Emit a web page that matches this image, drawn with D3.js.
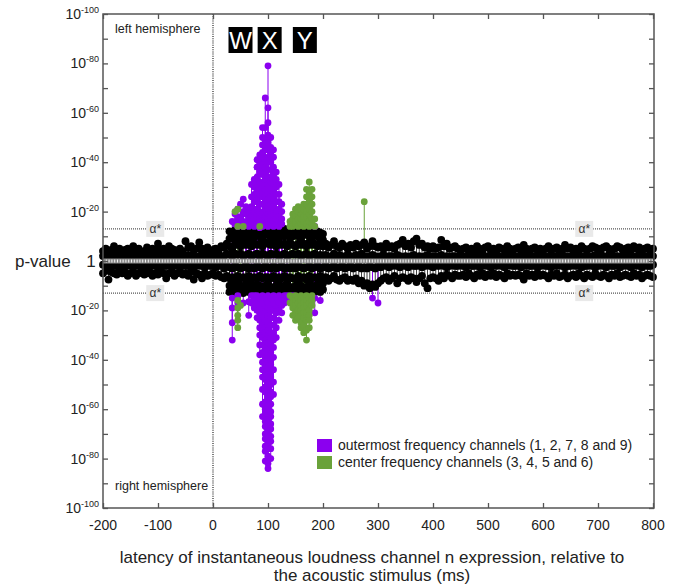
<!DOCTYPE html>
<html>
<head>
<meta charset="utf-8">
<script src="https://cdn.jsdelivr.net/npm/d3@7"></script>
<style>
  body { margin: 0; background: #fff; }
  text { font-family: "Liberation Sans", Arial, Helvetica, sans-serif; }
</style>
</head>
<body>
<svg id="chart" width="678" height="585"></svg>
<script>
// sampling grid of the black (non significant) points, in ms
const latencies = d3.range(-200, 801, 5);
const earlyLatencies = d3.range(30, 201, 5);

// -log10(p) of black points, left hemisphere (drawn upward)
const leftInner = [
  2,1.5,2,2.5,1,2,1.5,2,3,1.5, 2,1,2.5,2,1.5,2,2,1,2.5,2,
  1.5,2,3,2,1.5,2.5,1,2,2,1.5, 2,2.5,1.5,2,1,2,3,2,1.5,2,
  2.5,2,1.5,2,2,3,2.5,2,3,2.5, 3,2,2.5,3,2,2.5,3,2,3,2.5,
  2,3,2.5,3,2,2.5,3,2,2.5,3, 2.5,3,2,2.5,3,2,2.5,3,2,2.5,
  2,2.5,1.5,2,3,2,2.5,1.5,2,2.5, 2,1.5,2.5,2,3,2,1.5,2,2.5,2,
  1.5,2,2.5,1,2,2,1.5,2.5,2,1, 2,1.5,2,2.5,1.5,2,1,2,2.5,1.5,
  2,2,1.5,2.5,1,2,1.5,2,2,1.5, 2.5,2,1,2,1.5,2,2.5,1.5,2,1,
  2,1.5,2,2.5,2,1,2,1.5,2.5,2, 1.5,2,1,2,2.5,1.5,2,2,1,2,
  2.5,1.5,2,1,2,2,1.5,2.5,2,1.5, 2,1,2,2.5,1.5,2,2,1,2,2.5,
  1.5,2,2,1.5,2.5,1,2,2,1.5,2, 2.5,1.5,2,1,2,2.5,1.5,2,2,1.5,2
];
const leftOuter = [
  4,5,3.5,4.5,6,4,5,3.5,4.5,5, 4,6,4.5,5,3.5,4,5.5,4,5,4.5,
  7,4.5,5,4,6,5,4.5,3.5,5,4, 8,5.5,6,4.5,5,7.5,5,4.5,5.5,4,
  4.5,5,4,6,5.5,7,6,5,6.5,7, 6,7,6.5,7.5,6,7,6.5,7,6,7.5,
  7,6.5,7.5,6,7,6.5,7,6,7.5,6.5, 6,7,6.5,7,6,7.5,6.5,7,6,6.5,
  6,7,5.5,6.5,8,6,5.5,7,6,5, 6.5,5.5,7,6,6.5,7.5,5,6,8,6,
  5.5,6,5,7,5.5,6,5,6.5,7,8.5, 6,7,5.5,8,9,6.5,7,5.5,6,5,
  6,5,5.5,8.5,6,7,5,5.5,6,5, 4.5,5,5.5,4,5,4.5,6,5,4,5.5,
  6,4.5,5,4,5.5,5,4.5,6,5,4, 5,5.5,4.5,6.5,5,4,5,5.5,4.5,5,
  4,5,6,4.5,5,5.5,4,5,6.5,5, 5.5,4.5,5,4,6,5,4.5,5,6,5.5,
  5,4,5.5,6,5,4.5,5,6,5.5,4.5, 5,5.5,4.5,6,5,5.5,4,5,5.5,4.5,5
];
const leftEarlyMid = [9,10,8.5,11,9.5,10,9,11,10,9.5,11,10,9,10.5,11,9.5,10,11,9,10.5,10,11,9.5,10,11,10,9,10.5,11,10,9.5,11,10,9,8.5];
const leftEarlyTop = [12,11.5,12.5,12,13,12,12.5,11.5,12,13,12.5,12,12.5,13,12,12.5,12,13,12.5,12,13,12,12.5,13,12,12.5,13,12,12.5,12,13,12.5,12,11.5,11];

// -log10(p) of black points, right hemisphere (drawn downward)
const rightInner = [
  1.5,2,2.5,1,2,2,1.5,2.5,2,1, 2,2.5,1.5,2,1,2,2.5,2,1.5,2,
  2.5,1,2,2,1.5,2.5,2,1.5,2,1, 2,2,1.5,2.5,2,1,2,2.5,1.5,2,
  2,2.5,2,1.5,3,2,2.5,3,2,2.5, 3,2.5,2,3,2.5,3,2,2.5,3,2,
  2.5,3,2,3,2.5,2,3,2.5,3,2, 3,2,2.5,3,2.5,2,3,2.5,2,3,
  2.5,2,3,2.5,2,3,2.5,2,3,2.5, 2,3,2.5,2,3,2.5,3,2,2.5,3,
  2,2.5,1.5,2,2.5,2,1.5,2,2.5,1, 2,2.5,1.5,2,2,1,2.5,2,1.5,2,
  2.5,1.5,2,1,2,2.5,2,1.5,2,2, 1,2,2.5,1.5,2,2,1.5,2.5,2,1,
  2,2.5,1.5,2,1,2,2.5,2,1.5,2, 2,1.5,2.5,2,1,2,2,1.5,2.5,2,
  1.5,2,2,2.5,1,2,1.5,2,2.5,2, 2,1.5,2,1,2.5,2,2,1.5,2,2.5,
  2,1,2,2.5,1.5,2,2,1.5,2.5,2, 1.5,2,2.5,2,1,2,2.5,1.5,2,2,1.5
];
const rightOuter = [
  5,4,7.5,4.5,5,5.5,4,5,4.5,6, 5,4.5,6,5,4,5.5,5,4.5,6,5,
  5.5,4,5,7,5,4.5,6,5,4,5.5, 5,6,4.5,7.5,5,5.5,7,5,6,5.5,
  5,6,5.5,6.5,7,6,7,6.5,7,6, 7,6.5,7,6,7.5,6.5,7,6,7,6.5,
  6.5,7,6,7.5,6.5,7,6,7,6.5,7, 7,6,7,6.5,7.5,6,7,6.5,7,6,
  7,6.5,8,7,6,7.5,8,7,6.5,8, 7.5,8,7,9,8,10,9,11,9.5,10.5,
  9,8,7,6.5,8,7,6,9,7,6.5, 7,8,6.5,7,8.5,7,6,9,11,7,
  6.5,7,8,6,7,5.5,6,7,5.5,6, 6,5.5,6.5,5,6,7,5.5,6,5,6.5,
  5.5,6,5,6.5,5.5,6,7,5,6,5.5, 6,5.5,6,7.5,5,6,5.5,6.5,5,6,
  5.5,6,7,5.5,6,5,6.5,6,5.5,7, 6,5.5,6.5,5,6,7,5.5,6,6.5,5,
  6,6.5,5.5,6,7,5.5,6,5,6.5,6, 5.5,6,6.5,5,6,5.5,7,6,5.5,6,6.5
];
const rightEarlyMid = [10,9,11,9.5,10,11,9,10.5,10,11,9.5,10,11,10,9,10.5,11,10,9.5,11,10,9,10.5,11,10,9.5,10,11,10.5,9,10,11,9.5,10,9];
const rightEarlyTop = [12.5,12,13,12,12.5,13,12,12.5,13,12,12.5,13,12.5,12,13,12.5,12,13,12,12.5,13,12.5,12,13,12,12.5,13,12,12.5,13,12,12.5,12,12.5,11.5];

// significant points: [latency, list of -log10(p)]
const outermostLeft = [
  [35,[16]], [40,[19,15]], [45,[17,21,14]], [50,[23,18,15]], [55,[25,20,16,14]],
  [60,[19,15,22]], [65,[17,14,20]], [70,[31,22,18,15,26]],
  [75,[14,17,20,24,27,30,33]],
  [80,[15,18,21,25,28,31,34,38,41]],
  [85,[13.5,17,20,23,27,29,32,36,38,40,43]],
  [90,[14,16,19,23,26,28,31,35,37,39,42,44,47,50,54]],
  [95,[15,18,21,24,26,29,33,36,38,41,45,47,49,54,66]],
  [100,[14,17,19,22,25,28,31,34,37,40,42,45,48,51,56,62,79]],
  [105,[15,18,20,23,26,29,32,34,37,40,43,46,50]],
  [110,[14,16,19,22,25,28,31,35,38,42,45]],
  [115,[15,17,20,24,27,30,33,36]],
  [120,[14,18,21,24,27,31]],
  [125,[15,17,20,23]],
  [185,[14]]
];
const outermostRight = [
  [35,[15,19,25,32]], [45,[14,17]], [55,[17]], [65,[16.5,22]], [70,[14,17]],
  [75,[14,16,19]], [80,[14,17,20,23]],
  [85,[15,18,21,24,27,30,34,38]],
  [90,[14,16,19,22,25,28,31,34,37,41,44,47,52,58,63]],
  [95,[15,18,21,24,27,29,32,35,39,42,45,48,51,53,57,60,62,65,67,70,72,75,77,81]],
  [100,[14,17,19,22,25,28,30,33,36,38,40,43,46,49,51,54,56,59,61,64,67,69,71,74,76,79,82,84]],
  [105,[15,18,20,23,26,29,31,34,37,40,42,45,47,50,53,55,58,61,63,66,68,71,73,76,80]],
  [110,[14,17,20,23,26,29,32,35,39,44,49,54]],
  [115,[15,18,21,24,27,31]],
  [120,[14,17,20,24]], [125,[15,18,21]], [130,[14,17]], [135,[14,16]],
  [140,[15]], [145,[14]], [165,[24,19]], [185,[21,15]], [195,[16]],
  [290,[15]], [300,[17]]
];
const centerLeft = [
  [40,[20]], [45,[14,21]], [55,[14]], [85,[14]],
  [140,[14,16]], [145,[14,17,19]], [150,[15,18,21,16]], [155,[14,17,20,22]],
  [160,[15,17,19,21]], [165,[14,16,18,21,23]], [170,[15,18,20,23,26,29]],
  [175,[14,16,19,21,24,27,32]], [180,[15,17,20,23,26,29]], [185,[14,17]],
  [275,[24]]
];
const centerRight = [
  [45,[16,19,22,24,27]], [50,[18]],
  [140,[14,17]], [145,[15,17,19,22]], [150,[14,16,18,21,24]], [155,[15,17,20,23]],
  [160,[14,16,18,20,22,25,27]], [165,[15,17,19,21,23,26,29]],
  [170,[14,16,18,21,24,28,32]], [175,[15,17,20,22,24,27]], [180,[14,16,18]]
];

const alphaStar = 13;
const alphaLabelAt = [-105, 675];
const xTicks = [-200, -100, 0, 100, 200, 300, 400, 500, 600, 700, 800];
const yMinorTicks = d3.range(-100, 101, 10);
const yLabels = [-100, -80, -60, -40, -20, 20, 40, 60, 80, 100];
const peakNames = ["W", "X", "Y"];
const peakAt = [50, 103, 167];
const legendNames = ["outermost frequency channels (1, 2, 7, 8 and 9)", "center frequency channels (3, 4, 5 and 6)"];
const purple = "#8b00ef";
const green = "#6aa23a";
const legendColors = [purple, green];

const svg = d3.select("#chart");
const x = d3.scaleLinear().domain([-200, 800]).range([103, 653]);
const y = d3.scaleLinear().domain([-100, 100]).range([508, 14]);

// flatten the data (left hemisphere up, right hemisphere down)
const black = [];
latencies.forEach((t, i) => {
  black.push({ t: t, v: leftInner[i] }, { t: t, v: leftOuter[i] });
  black.push({ t: t, v: -rightInner[i] }, { t: t, v: -rightOuter[i] });
});
earlyLatencies.forEach((t, i) => {
  black.push({ t: t, v: leftEarlyMid[i] }, { t: t, v: leftEarlyTop[i] });
  black.push({ t: t, v: -rightEarlyMid[i] }, { t: t, v: -rightEarlyTop[i] });
});

function expand(list, sign, color) {
  const out = [];
  list.forEach(([t, vals]) => vals.forEach(v => out.push({ t: t, v: sign * v, color: color })));
  return out;
}
const colored = [].concat(
  expand(outermostLeft, 1, purple), expand(outermostRight, -1, purple),
  expand(centerLeft, 1, green), expand(centerRight, -1, green)
);

// reference lines
svg.append("line")
  .attr("x1", x(0)).attr("x2", x(0)).attr("y1", y(100)).attr("y2", y(-100))
  .attr("stroke", "#222").attr("stroke-width", 1.2).attr("stroke-dasharray", "1,1.2");
[alphaStar, -alphaStar].forEach(a => {
  svg.append("line")
    .attr("x1", x(-200)).attr("x2", x(800)).attr("y1", y(a)).attr("y2", y(a))
    .attr("stroke", "#555").attr("stroke-width", 1.3).attr("stroke-dasharray", "1,1");
  alphaLabelAt.forEach(t => {
    svg.append("rect")
      .attr("x", x(t) - 9).attr("y", y(a) - 8).attr("width", 18).attr("height", 16)
      .attr("fill", "#e9e9e9");
    svg.append("text")
      .attr("x", x(t)).attr("y", y(a) + 4).attr("text-anchor", "middle")
      .attr("font-size", 12).attr("fill", "#333").text("α*");
  });
});

// stems
svg.append("g").selectAll("line").data(black).join("line")
  .attr("x1", d => x(d.t)).attr("x2", d => x(d.t))
  .attr("y1", y(0)).attr("y2", d => y(d.v))
  .attr("stroke", "#111").attr("stroke-width", 0.8);
svg.append("g").selectAll("line").data(colored).join("line")
  .attr("x1", d => x(d.t)).attr("x2", d => x(d.t))
  .attr("y1", y(0)).attr("y2", d => y(d.v))
  .attr("stroke", d => d.color).attr("stroke-width", 1);

// black points
svg.append("g").selectAll("circle").data(black).join("circle")
  .attr("cx", d => x(d.t)).attr("cy", d => y(d.v)).attr("r", 3.9)
  .attr("fill", "#000");

// baseline band
svg.append("line")
  .attr("x1", x(-200)).attr("x2", x(800)).attr("y1", y(0)).attr("y2", y(0))
  .attr("stroke", "#8c8c8c").attr("stroke-width", 5);
svg.append("line")
  .attr("x1", x(-200)).attr("x2", x(800)).attr("y1", y(0)).attr("y2", y(0))
  .attr("stroke", "#f4f4f4").attr("stroke-width", 3).attr("stroke-dasharray", "1,1.8");

// colored points
svg.append("g").selectAll("circle").data(colored).join("circle")
  .attr("cx", d => x(d.t)).attr("cy", d => y(d.v)).attr("r", 3.4)
  .attr("fill", d => d.color);

// frame and ticks
svg.append("rect")
  .attr("x", x(-200)).attr("y", y(100)).attr("width", x(800) - x(-200) + 1).attr("height", y(-100) - y(100))
  .attr("fill", "none").attr("stroke", "#555").attr("stroke-width", 1.5);
const tickColor = "#555";
function inwardTicks(g) {
  g.select(".domain").remove();
  g.selectAll(".tick line").attr("stroke", tickColor).attr("stroke-width", 1.3);
}
svg.append("g").attr("transform", `translate(0,${y(-100)})`)
  .call(d3.axisBottom(x).tickValues(xTicks).tickSize(-5).tickFormat("")).call(inwardTicks);
svg.append("g").attr("transform", `translate(0,${y(100)})`)
  .call(d3.axisTop(x).tickValues(xTicks).tickSize(-5).tickFormat("")).call(inwardTicks);
svg.append("g").attr("transform", `translate(${x(-200)},0)`)
  .call(d3.axisLeft(y).tickValues(yMinorTicks).tickSize(-5).tickFormat("")).call(inwardTicks);
svg.append("g").attr("transform", `translate(${x(800) + 1},0)`)
  .call(d3.axisRight(y).tickValues(yMinorTicks).tickSize(-5).tickFormat("")).call(inwardTicks);

// x tick labels
svg.append("g").selectAll("text").data(xTicks).join("text")
  .attr("x", d => x(d)).attr("y", 530).attr("text-anchor", "middle")
  .attr("font-size", 14).attr("fill", "#222").text(d => d);

// y tick labels: 10 with superscript exponent
const yl = svg.append("g").selectAll("text").data(yLabels).join("text")
  .attr("x", 99).attr("y", d => y(d) + 5).attr("text-anchor", "end")
  .attr("font-size", 14).attr("fill", "#222");
yl.append("tspan").text("10");
yl.append("tspan").attr("font-size", 9).attr("dy", -6).text(d => "-" + Math.abs(d));
svg.append("text").attr("x", 91).attr("y", y(0) + 6).attr("text-anchor", "middle")
  .attr("font-size", 17).attr("fill", "#222").text("1");
svg.append("text").attr("x", 15).attr("y", y(0) + 6)
  .attr("font-size", 17).attr("fill", "#222").text("p-value");

// hemisphere labels
svg.append("text").attr("x", 115).attr("y", 33).attr("font-size", 12.5).attr("fill", "#222").text("left hemisphere");
svg.append("text").attr("x", 115).attr("y", 490).attr("font-size", 12.5).attr("fill", "#222").text("right hemisphere");

// W X Y peak tags
const tags = svg.append("g").selectAll("g").data(peakNames).join("g")
  .attr("transform", (d, i) => `translate(${x(peakAt[i])},27)`);
tags.append("rect").attr("x", -12).attr("y", 0).attr("width", 24).attr("height", 26).attr("fill", "#000");
tags.append("text").attr("x", 0).attr("y", 22).attr("text-anchor", "middle")
  .attr("font-size", 24).attr("fill", "#fff").text(d => d);

// legend
const leg = svg.append("g").selectAll("g").data(legendNames).join("g")
  .attr("transform", (d, i) => `translate(317,${439 + i * 17})`);
leg.append("rect").attr("width", 15).attr("height", 13).attr("fill", (d, i) => legendColors[i]);
leg.append("text").attr("x", 21).attr("y", 11).attr("font-size", 14).attr("fill", "#222").text(d => d);

// x axis title
svg.append("text").attr("x", 372).attr("y", 563).attr("text-anchor", "middle")
  .attr("font-size", 17).attr("fill", "#222")
  .text("latency of instantaneous loudness channel n expression, relative to");
svg.append("text").attr("x", 372).attr("y", 581).attr("text-anchor", "middle")
  .attr("font-size", 17).attr("fill", "#222")
  .text("the acoustic stimulus (ms)");
</script>
</body>
</html>
